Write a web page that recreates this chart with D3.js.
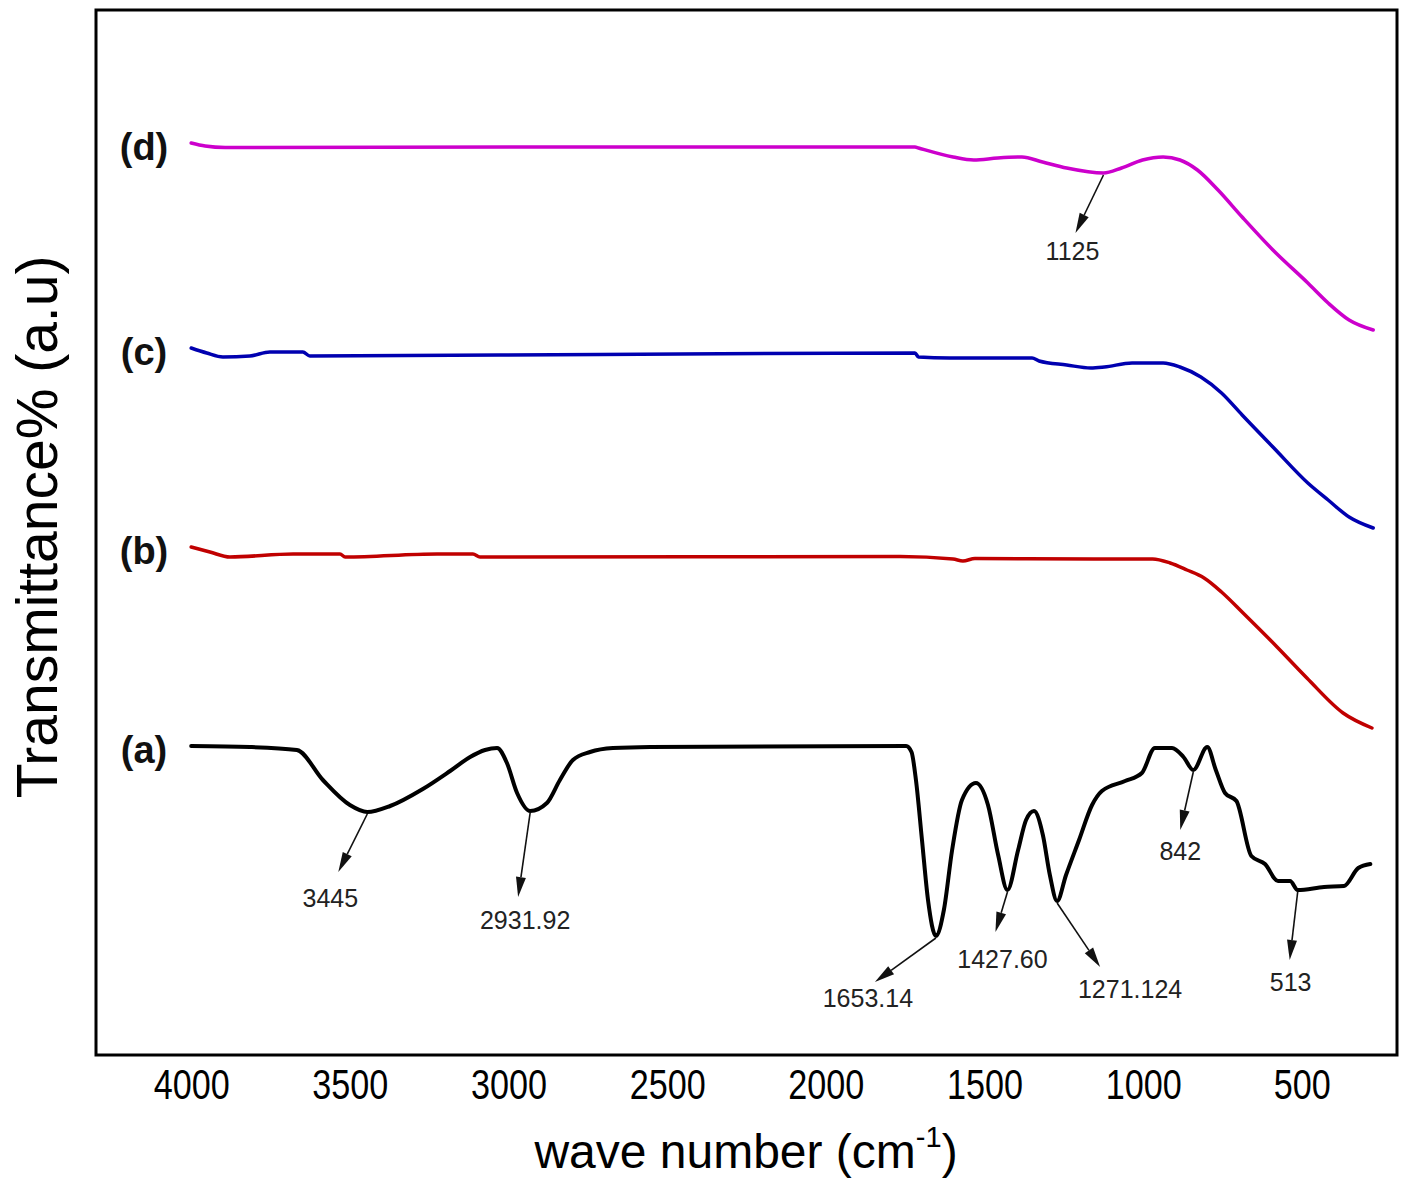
<!DOCTYPE html>
<html>
<head>
<meta charset="utf-8">
<script src="https://cdn.jsdelivr.net/npm/d3@7"></script>
<style>
  body { margin: 0; background: #fff; }
  svg { display: block; }
</style>
</head>
<body>
<svg id="chart" width="1407" height="1183"></svg>
<script>
// FTIR spectra, stacked with an arbitrary vertical offset (a.u.)
const seriesNames  = ["(a)", "(b)", "(c)", "(d)"];
const seriesColors = ["#000000", "#c00000", "#0000b0", "#cc00cc"];

// (a)
const waveA = [4000, 3815, 3667, 3585, 3500, 3445, 3373, 3270, 3184, 3121, 3074, 3036, 3005, 2973, 2931.92, 2879, 2838, 2797, 2743, 2671, 2554,
               1747, 1730, 1716, 1697, 1678, 1653.14, 1628, 1602, 1571, 1527, 1489, 1457, 1427.60, 1394, 1369, 1344, 1316, 1294, 1271.124,
               1243, 1202, 1161, 1130, 1057, 1004, 963, 909, 873, 842, 798, 771, 742, 706, 659, 616, 575, 537, 513, 430, 367, 322, 284];
const valA  = [30.9, 30.8, 30.5, 27.5, 25.0, 24.3, 24.9, 26.6, 28.4, 29.8, 30.5, 30.7, 29.2, 26.2, 24.4, 25.2, 27.5, 29.5, 30.3, 30.7, 30.8,
               30.9, 30.3, 27.5, 21.5, 15.5, 11.9, 14.5, 20.5, 25.5, 27.2, 25.0, 20.0, 16.5, 20.5, 23.5, 24.4, 22.0, 18.0, 15.4,
               18.0, 21.5, 25.0, 26.4, 27.4, 28.2, 30.7, 30.7, 29.8, 28.5, 30.8, 28.5, 26.2, 25.4, 19.9, 19.1, 17.4, 17.4, 16.5, 16.8, 16.9, 18.7, 19.1];

// (b)
const waveB = [4000, 3941, 3878, 3679, 3531, 3515, 3225, 3112, 3090, 1766, 1599, 1568, 1530, 1155, 970, 915, 862, 808, 753, 685, 578, 484, 370, 279];
const valB  = [50.8, 50.3, 49.8, 50.1, 50.1, 49.8, 50.1, 50.1, 49.8, 49.85, 49.6, 49.4, 49.65, 49.6, 49.6, 49.2, 48.5, 47.7, 46.3, 44.2, 40.8, 37.7, 34.2, 32.7];

// (c)
const waveC = [4000, 3951, 3900, 3815, 3752, 3648, 3626, 2712, 1719, 1708, 1610, 1350, 1328, 1241, 1165, 1122, 1035, 937, 884, 818, 753, 688, 591, 481, 417, 351, 275];
const valC  = [70.7, 70.2, 69.8, 69.9, 70.3, 70.3, 69.9, 70.05, 70.2, 69.8, 69.7, 69.7, 69.4, 69.0, 68.7, 68.8, 69.2, 69.2, 68.8, 67.8, 66.2, 64.0, 60.8, 57.2, 55.5, 53.8, 52.7];

// (d)
const waveD = [4000, 3956, 3893, 2712, 1719, 1708, 1599, 1534, 1458, 1382, 1317, 1241, 1125, 1068, 1002, 937, 884, 829, 764, 688, 591, 481, 417, 351, 275];
const valD  = [91.2, 90.9, 90.75, 90.8, 90.8, 90.7, 89.8, 89.5, 89.7, 89.8, 89.3, 88.7, 88.2, 88.7, 89.5, 89.8, 89.5, 88.5, 86.5, 83.8, 80.5, 77.2, 75.2, 73.5, 72.5];

const seriesWaves  = [waveA, waveB, waveC, waveD];
const seriesValues = [valA, valB, valC, valD];

// x-axis tick labels
const xTicks = [4000, 3500, 3000, 2500, 2000, 1500, 1000, 500];

// band annotations: label text, band position, series index
const peakLabels = ["3445", "2931.92", "1653.14", "1427.60", "1271.124", "842", "513", "1125"];
const peakWaves  = [3445, 2931.92, 1653.14, 1427.60, 1271.124, 842, 513, 1125];
const peakSeries = [0, 0, 0, 0, 0, 0, 0, 3];
// arrow vector and label offset from the band position (px): [dx, dy, labelDx, labelDy]
const peakArrowLayout = [
  [-29, 58, -37, 86], [-12, 84, -5, 109], [-61, 44, -68, 62], [-12, 40, -5, 69],
  [43, 64, 73, 88], [-13, 58, -13, 81], [-8, 68, -7, 92], [-28, 58, -31, 78]
];

const svg = d3.select("#chart");
const plot = { left: 96, right: 1397, top: 10, bottom: 1055 };

const x = d3.scaleLinear().domain([4300, 200]).range([plot.left, plot.right]);
const y = d3.scaleLinear().domain([0, 104.5]).range([plot.bottom, plot.top]);

const line = d3.line()
  .x(d => x(d[0]))
  .y(d => y(d[1]))
  .curve(d3.curveMonotoneX);

// spectra
seriesWaves.forEach((w, i) => {
  const pts = w.map((wn, k) => [wn, seriesValues[i][k]]);
  svg.append("path")
    .datum(pts)
    .attr("fill", "none")
    .attr("stroke", seriesColors[i])
    .attr("stroke-width", i === 0 ? 4 : 3.5)
    .attr("stroke-linejoin", "round")
    .attr("stroke-linecap", "round")
    .attr("d", line);
});

// series labels at the left end of each trace
seriesNames.forEach((name, i) => {
  svg.append("text")
    .attr("x", 144)
    .attr("y", y(seriesValues[i][0]) + 7)
    .attr("text-anchor", "middle")
    .attr("dominant-baseline", "middle")
    .attr("font-family", "Liberation Sans, Arial, sans-serif")
    .attr("font-weight", "bold")
    .attr("font-size", 38)
    .attr("fill", "#111")
    .text(name);
});

// band annotations with arrows
peakLabels.forEach((lab, i) => {
  const s = peakSeries[i];
  const w = seriesWaves[s];
  let best = 0;
  w.forEach((wn, k) => { if (Math.abs(wn - peakWaves[i]) < Math.abs(w[best] - peakWaves[i])) best = k; });
  const x0 = x(peakWaves[i]);
  const y0 = y(seriesValues[s][best]) + 2;
  const [dx, dy, lx, ly] = peakArrowLayout[i];
  const x1 = x0 + dx, y1 = y0 + dy;
  const len = Math.hypot(dx, dy);
  const ux = dx / len, uy = dy / len;
  const headLen = 20, headHalf = 5;
  const bx = x1 - ux * headLen, by = y1 - uy * headLen;
  svg.append("line")
    .attr("x1", x0).attr("y1", y0)
    .attr("x2", bx).attr("y2", by)
    .attr("stroke", "#111").attr("stroke-width", 1.6);
  svg.append("path")
    .attr("d", `M${x1},${y1}L${bx - uy * headHalf},${by + ux * headHalf}L${bx + uy * headHalf},${by - ux * headHalf}Z`)
    .attr("fill", "#111");
  svg.append("text")
    .attr("x", x0 + lx)
    .attr("y", y0 + ly)
    .attr("text-anchor", "middle")
    .attr("dominant-baseline", "middle")
    .attr("font-family", "Liberation Sans, Arial, sans-serif")
    .attr("font-size", 25)
    .attr("fill", "#222")
    .text(lab);
});

// frame
svg.append("rect")
  .attr("x", plot.left).attr("y", plot.top)
  .attr("width", plot.right - plot.left).attr("height", plot.bottom - plot.top)
  .attr("fill", "none").attr("stroke", "#000").attr("stroke-width", 3);

// x axis labels (narrow digits)
const xAxis = d3.axisBottom(x).tickValues(xTicks).tickSize(0).tickPadding(14).tickFormat(d3.format("d"));
const gx = svg.append("g").attr("transform", `translate(0,${plot.bottom})`).call(xAxis);
gx.select(".domain").remove();
gx.selectAll("text")
  .attr("font-family", "Liberation Sans, Arial, sans-serif")
  .attr("font-size", 42)
  .attr("fill", "#000")
  .attr("textLength", d => String(d).length * 19)
  .attr("lengthAdjust", "spacingAndGlyphs");

// axis titles
const xt = svg.append("text")
  .attr("x", 746).attr("y", 1168)
  .attr("text-anchor", "middle")
  .attr("font-family", "Liberation Sans, Arial, sans-serif")
  .attr("font-size", 48)
  .attr("fill", "#000");
xt.append("tspan").text("wave number (cm");
xt.append("tspan").attr("font-size", 29).attr("dy", -21).text("-1");
xt.append("tspan").attr("dy", 21).text(")");

svg.append("text")
  .attr("transform", "translate(57,527) rotate(-90)")
  .attr("text-anchor", "middle")
  .attr("font-family", "Liberation Sans, Arial, sans-serif")
  .attr("font-size", 57)
  .attr("fill", "#000")
  .text("Transmittance% (a.u)");
</script>
</body>
</html>
